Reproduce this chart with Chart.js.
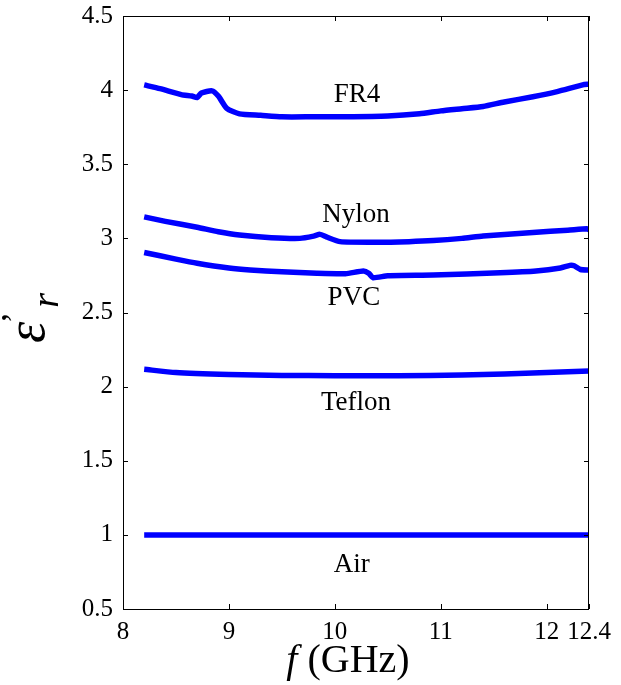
<!DOCTYPE html>
<html>
<head>
<meta charset="utf-8">
<script src="https://cdn.jsdelivr.net/npm/chart.js@4"></script>
<style>
  html, body { margin: 0; padding: 0; background: #fff; }
  #wrap { width: 621px; height: 685px; }
</style>
</head>
<body>
<div id="wrap"><canvas id="chart" width="621" height="685"></canvas></div>
<script>
// Data (GHz, relative permittivity)
const fr4Freq   = [8.2, 8.35, 8.55, 8.65, 8.7, 8.74, 8.84, 8.9, 8.98, 9.1, 9.3, 9.5, 9.8, 10.1, 10.5, 10.8, 11.0, 11.2, 11.4, 11.6, 11.87, 12.1, 12.34, 12.4];
const fr4Eps    = [4.035, 4.01, 3.97, 3.96, 3.95, 3.98, 3.995, 3.96, 3.877, 3.84, 3.83, 3.82, 3.82, 3.82, 3.825, 3.84, 3.86, 3.875, 3.89, 3.92, 3.955, 3.99, 4.035, 4.04];

const nylonFreq = [8.2, 8.4, 8.7, 8.9, 9.1, 9.4, 9.67, 9.8, 9.86, 9.92, 10.05, 10.4, 10.7, 10.93, 11.2, 11.4, 11.87, 12.2, 12.38, 12.4];
const nylonEps  = [3.145, 3.115, 3.075, 3.045, 3.023, 3.005, 3.0, 3.015, 3.027, 3.01, 2.978, 2.974, 2.978, 2.985, 3.0, 3.016, 3.04, 3.055, 3.065, 3.058];

const pvcFreq   = [8.2, 8.5, 8.7, 9.0, 9.2, 9.5, 9.83, 10.1, 10.27, 10.32, 10.36, 10.5, 10.93, 11.56, 11.9, 12.13, 12.22, 12.26, 12.32, 12.4];
const pvcEps    = [2.905, 2.86, 2.832, 2.80, 2.787, 2.775, 2.765, 2.762, 2.78, 2.765, 2.735, 2.748, 2.753, 2.768, 2.78, 2.80, 2.818, 2.815, 2.79, 2.787];

const teflonFreq = [8.2, 8.5, 9.0, 9.5, 10.0, 10.6, 11.2, 11.6, 12.0, 12.4];
const teflonEps  = [2.117, 2.095, 2.082, 2.075, 2.074, 2.074, 2.078, 2.085, 2.095, 2.106];

const airFreq = [8.2, 9.0, 10.0, 11.0, 12.0, 12.4];
const airEps  = [1.0, 1.0, 1.0, 1.0, 1.0, 1.0];

const xTicks = [8, 9, 10, 11, 12, 12.4];
const yTicks = [0.5, 1, 1.5, 2, 2.5, 3, 3.5, 4, 4.5];
const materials = ['FR4', 'Nylon', 'PVC', 'Teflon', 'Air'];
// label anchor points in data units
const labelX = [10.21, 10.2, 10.18, 10.2, 10.16];
const labelY = [3.967, 3.158, 2.598, 1.89, 0.797];

const pts = (xs, ys) => xs.map((x, i) => ({x: x, y: ys[i]}));
const series = [pts(fr4Freq, fr4Eps), pts(nylonFreq, nylonEps), pts(pvcFreq, pvcEps),
                pts(teflonFreq, teflonEps), pts(airFreq, airEps)];

const SERIF = '"Liberation Serif", "DejaVu Serif", serif';

// box, inward ticks, y tick labels, material labels and axis titles
const decor = {
  id: 'decor',
  afterDraw(chart) {
    const c = chart.ctx, a = chart.chartArea;
    const xs = chart.scales.x, ys = chart.scales.y;
    c.save();
    c.strokeStyle = '#000';
    c.lineWidth = 1;
    c.strokeRect(a.left + 0.5, a.top + 0.5, a.right - a.left - 1, a.bottom - a.top);
    c.beginPath();
    xTicks.forEach(v => {
      const px = Math.round(xs.getPixelForValue(v)) + 0.5;
      c.moveTo(px, a.bottom); c.lineTo(px, a.bottom - 5);
      c.moveTo(px, a.top); c.lineTo(px, a.top + 5);
    });
    yTicks.forEach(v => {
      const py = Math.round(ys.getPixelForValue(v)) + 0.5;
      c.moveTo(a.left, py); c.lineTo(a.left + 5, py);
      c.moveTo(a.right, py); c.lineTo(a.right - 5, py);
    });
    c.stroke();

    c.fillStyle = '#000';
    c.font = '25px ' + SERIF;
    c.textAlign = 'right';
    c.textBaseline = 'middle';
    yTicks.forEach(v => {
      c.fillText(String(v), a.left - 10, ys.getPixelForValue(v));
    });

    c.font = '27px ' + SERIF;
    c.textAlign = 'center';
    materials.forEach((m, i) => {
      c.fillText(m, xs.getPixelForValue(labelX[i]), ys.getPixelForValue(labelY[i]));
    });

    // x title: f (GHz)
    c.textBaseline = 'alphabetic';
    c.textAlign = 'left';
    c.font = 'italic 40px ' + SERIF;
    const fW = c.measureText('f').width;
    c.font = '40px ' + SERIF;
    const restW = c.measureText(' (GHz)').width;
    let x0 = (a.left + a.right) / 2 - (fW + restW) / 2 - 8;
    c.font = 'italic 40px ' + SERIF;
    c.fillText('f', x0, 672);
    c.font = '40px ' + SERIF;
    c.fillText(' (GHz)', x0 + fW, 672);

    // y title: epsilon' r
    c.translate(44, 343);
    c.rotate(-Math.PI / 2);
    c.font = 'italic 54px ' + SERIF;
    c.fillText('\u03b5', 0, 0);
    const eW = c.measureText('\u03b5').width;
    c.font = '36px ' + SERIF;
    c.fillText('\u2019', eW - 2, -18);
    c.font = 'italic 38px ' + SERIF;
    c.fillText('r', eW + 14, 14);
    c.restore();
  }
};

new Chart(document.getElementById('chart'), {
  type: 'line',
  data: {
    datasets: series.map((d, i) => ({
      label: materials[i],
      data: d,
      borderColor: '#0000ff',
      backgroundColor: '#0000ff',
      borderWidth: 5.5,
      pointRadius: 0,
      tension: 0.2,
      fill: false
    }))
  },
  options: {
    responsive: false,
    animation: false,
    layout: { padding: { top: 16, right: 32, left: 0, bottom: 0 } },
    plugins: { legend: { display: false }, tooltip: { enabled: false } },
    scales: {
      x: {
        type: 'linear',
        min: 8, max: 12.4,
        afterBuildTicks: s => { s.ticks = xTicks.map(v => ({value: v})); },
        afterFit: s => { s.height = 76; },
        grid: { display: false },
        border: { display: false },
        ticks: {
          autoSkip: false, maxRotation: 0, padding: 0,
          color: '#000', font: { family: SERIF, size: 25 },
          callback: v => String(v)
        }
      },
      y: {
        min: 0.5, max: 4.5,
        afterFit: s => { s.width = 123; },
        grid: { display: false },
        border: { display: false },
        ticks: { display: false }
      }
    }
  },
  plugins: [decor]
});
</script>
</body>
</html>
